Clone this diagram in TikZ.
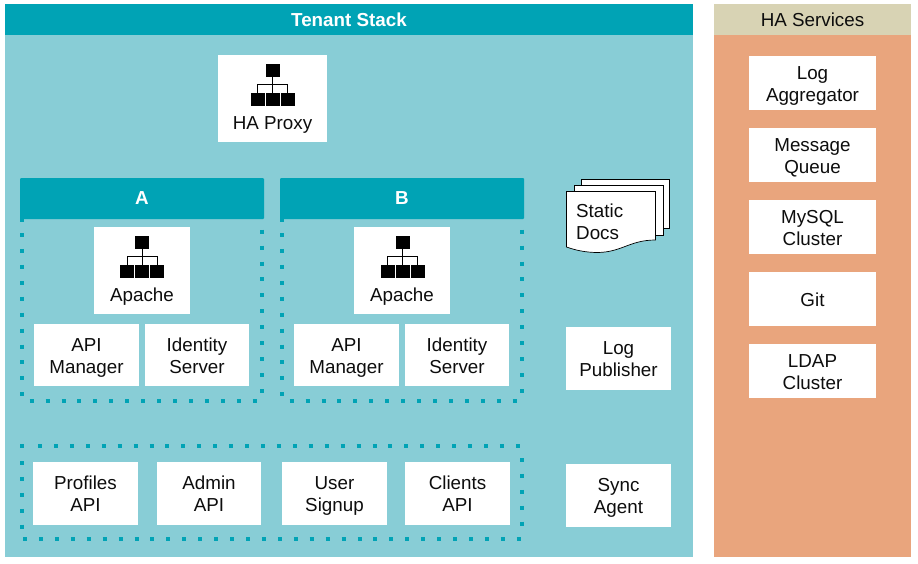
\documentclass[tikz,border=0pt]{standalone}
\usepackage{fontspec}
\setmainfont{Liberation Sans}
\definecolor{tealdark}{HTML}{00A3B5}
\definecolor{tealbg}{HTML}{88CDD6}
\definecolor{orangebg}{HTML}{E9A57D}
\definecolor{tanhead}{HTML}{D8D3B4}
\tikzset{
  every node/.style={font=\fontsize{18.8}{22}\selectfont, text=black!95},
  wbox/.style={fill=white, draw=none, inner sep=0pt, align=center},
  header/.style={fill=tealdark, draw=none, rounded corners=1pt, inner sep=0pt, text=white, font=\fontsize{18.8}{22}\selectfont\bfseries},
  dotline/.style={draw=tealdark, line width=4pt, dash pattern=on 4pt off 11.93pt},
  sheet/.style={fill=white, draw=black, line width=0.7pt},
  iconlink/.style={draw=black, line width=0.8pt},
  iconsq/.style={fill=black, draw=none},
  pics/lbicon/.style={code={
    \draw[iconlink] (0,8) -- (0,29);
    \draw[iconlink] (-15,20) -- (15,20) (-15,20) -- (-15,29) (15,20) -- (15,29);
    \fill[iconsq] (-7,0) rectangle (7,13);
    \fill[iconsq] (-22,29) rectangle (-8,42);
    \fill[iconsq] (-7,29) rectangle (7,42);
    \fill[iconsq] (8,29) rectangle (22,42);
  }}
}
\newcommand{\wnode}[6]{\node[wbox, minimum width=#4 pt - #2 pt, minimum height=#5 pt - #3 pt] (#1) at ({(#2+#4)/2},{(#3+#5)/2}) {};
  \node[inner sep=0pt, align=center] (#1-text) at ({(#2+#4)/2},{(#3+#5)/2+3}) {#6};}
\newcommand{\st}{\strut}
\begin{document}
\begin{tikzpicture}[x=1pt,y=-1pt]
\useasboundingbox (0,0) rectangle (918,563);
\fill[white] (0,0) rectangle (918,563);
% panels
\fill[tealbg] (5,4) rectangle (693,557);
\fill[orangebg] (714,4) rectangle (911,557);
\fill[tealdark] (5,4) rectangle (693,35);
\fill[tanhead] (714,4) rectangle (911,35);
\node[text=white, font=\fontsize{18.8}{22}\selectfont\bfseries] (tenant) at (349,20) {Tenant Stack};
\node (hasvc) at (812.5,20) {HA Services};
% HA Proxy
\node[wbox, minimum width=109pt, minimum height=87pt] (proxy) at (272.5,98.5) {};
\path (272.5,64) pic {lbicon};
\node (proxyl) at (272.5,125) {HA Proxy};
% dotted groups
\draw[dotline] (22,233) -- (22,397.2);
\draw[dotline] (29.7,401) -- (258,401);
\draw[dotline] (261.7,229.7) -- (261.7,393.2);
\draw[dotline] (282.3,233) -- (282.3,397.2);
\draw[dotline] (289.7,401) -- (518,401);
\draw[dotline] (521.7,229.7) -- (521.7,393.2);
\draw[dotline] (20,446) -- (24.5,446);
\draw[dotline] (38,446) -- (522,446);
\draw[dotline] (22,461) -- (22,529.2);
\draw[dotline] (521.7,458) -- (521.7,526.2);
\draw[dotline] (23,539.3) -- (523.2,539.3);
\draw[dotline] (22,218) -- (22,222);
\draw[dotline] (282.3,218) -- (282.3,222);
% headers
\node[header, minimum width=244pt, minimum height=41pt] (ha) at (142,198.5) {A};
\node[header, minimum width=244pt, minimum height=41pt] (hb) at (402,198.5) {B};
% A
\node[wbox, minimum width=96pt, minimum height=87pt] (apa) at (142,270.5) {};
\path (142,236) pic {lbicon};
\node (apal) at (142,297) {Apache};
\wnode{ama}{34}{324}{139}{386}{\st API\\\st Manager}
\wnode{isa}{145}{324}{249}{386}{\st Identity\\\st Server}
% B
\node[wbox, minimum width=96pt, minimum height=87pt] (apb) at (402,270.5) {};
\path (402.5,236) pic {lbicon};
\node (apbl) at (402,297) {Apache};
\wnode{amb}{294}{324}{399}{386}{\st API\\\st Manager}
\wnode{isb}{405}{324}{509}{386}{\st Identity\\\st Server}
% API row
\wnode{prof}{33}{462}{138}{525}{\st Profiles\\\st API}
\wnode{admin}{157}{462}{261}{525}{\st Admin\\\st API}
\wnode{signup}{282}{462}{387}{525}{\st User\\\st Signup}
\wnode{clients}{405}{462}{510}{525}{\st Clients\\\st API}
% right column
\wnode{logpub}{566}{327}{671}{390}{\st Log\\\st Publisher}
\wnode{sync}{566}{464}{671}{527}{\st Sync\\\st Agent}
% static docs
\draw[sheet] (581,179) -- (669.5,179) -- (669.5,228) -- (581,228) -- cycle;
\draw[sheet] (574,185) -- (663,185) -- (663,235) -- (574,235) -- cycle;
\draw[sheet] (566.5,191.5) -- (655.5,191.5) -- (655.5,240)
  .. controls (630,240) and (622,252) .. (598,252.5)
  .. controls (585,252.5) and (575,250) .. (566.5,247) -- cycle;
\node[align=left, anchor=west, inner sep=0pt] (docs) at (576,224) {\st Static\\\st Docs};
% HA services
\wnode{logag}{749}{56}{876}{110}{\st Log\\\st Aggregator}
\wnode{mq}{749}{128}{876}{182}{\st Message\\\st Queue}
\wnode{mysql}{749}{200}{876}{254}{\st MySQL\\\st Cluster}
\wnode{git}{749}{272}{876}{326}{\st Git}
\wnode{ldap}{749}{344}{876}{398}{\st LDAP\\\st Cluster}
\end{tikzpicture}
\end{document}
